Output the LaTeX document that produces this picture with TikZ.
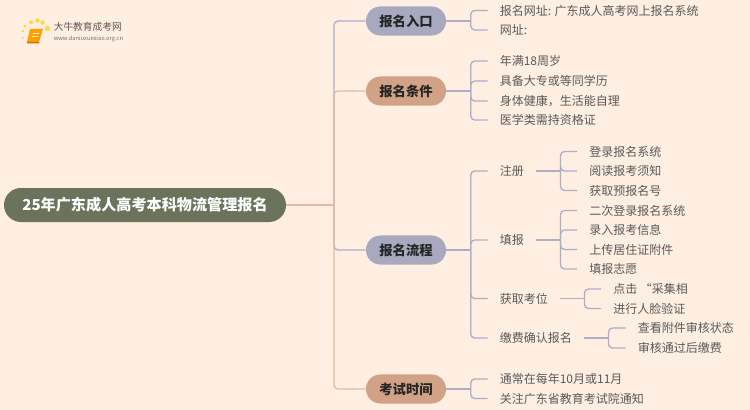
\documentclass[tikz,border=0pt]{standalone}
\usepackage{fontspec}
\setmainfont{Noto Sans CJK SC}
\usetikzlibrary{calc}
\definecolor{bgc}{HTML}{FFEEE2}
\definecolor{lav}{HTML}{A8A9BE}
\definecolor{sal}{HTML}{D2A286}
\definecolor{rootc}{HTML}{6C735C}
\definecolor{lavl}{HTML}{ADAFC8}
\definecolor{sall}{HTML}{E3BAA2}
\definecolor{txt}{HTML}{5A5A5A}
\tikzset{
  x=0.75pt,y=-0.75pt,
  rootpill/.style={rounded corners=12.7pt,fill=rootc,text=white,font=\fontsize{11.35pt}{12pt}\selectfont\bfseries,minimum width=211.5pt,minimum height=25.5pt,inner sep=0pt},
  branch/.style={rounded corners=10.8pt,text=black!85,font=\fontsize{10pt}{12pt}\selectfont\bfseries,minimum width=60pt,minimum height=21.8pt,inner sep=0pt},
  leaf/.style={anchor=west,text=txt,font=\fontsize{9pt}{11pt}\selectfont,inner xsep=9pt,inner ysep=0pt},
  conl/.style={draw=lavl,line width=1pt,rounded corners=3pt},
  cons/.style={draw=sall,line width=1pt,rounded corners=3pt},
}
\begin{document}
\begin{tikzpicture}
\fill[bgc] (0,0) rectangle (750,410);
\useasboundingbox (0,0) rectangle (750,410);

\node[rootpill] (root) at (145,205) {25年广东成人高考本科物流管理报名};
\node[branch,fill=lav] (a) at (406,21) {报名入口};
\node[branch,fill=sal] (b) at (406,91) {报名条件};
\node[branch,fill=lav] (c) at (406,250) {报名流程};
\node[branch,fill=sal] (d) at (406,389) {考试时间};

\node[leaf] (a1) at (487.5,10.5) {报名网址: 广东成人高考网上报名系统};
\node[leaf] (a2) at (487.5,30) {网址:};
\node[leaf] (b1) at (487.5,61) {年满18周岁};
\node[leaf] (b2) at (487.5,81) {具备大专或等同学历};
\node[leaf] (b3) at (487.5,101) {身体健康，生活能自理};
\node[leaf] (b4) at (487.5,120) {医学类需持资格证};
\node[leaf] (c1) at (487.5,171) {注册};
\node[leaf] (c2) at (487.5,240) {填报};
\node[leaf] (c3) at (487.5,298.5) {获取考位};
\node[leaf] (c4) at (487.5,338) {缴费确认报名};
\node[leaf] (c11) at (577,151.5) {登录报名系统};
\node[leaf] (c12) at (577,171) {阅读报考须知};
\node[leaf] (c13) at (577,190.5) {获取预报名号};
\node[leaf] (c21) at (577,210.5) {二次登录报名系统};
\node[leaf] (c22) at (577,230) {录入报考信息};
\node[leaf] (c23) at (577,249.5) {上传居住证附件};
\node[leaf] (c24) at (577,269) {填报志愿};
\node[leaf] (c31) at (601,289) {点击 “采集相};
\node[leaf] (c32) at (601,308.5) {进行人脸验证};
\node[leaf] (c41) at (625.5,328) {查看附件审核状态};
\node[leaf] (c42) at (625.5,348) {审核通过后缴费};
\node[leaf] (d1) at (487.5,379) {通常在每年10月或11月};
\node[leaf] (d2) at (487.5,398.5) {关注广东省教育考试院通知};

% main trunk
\coordinate (tr) at (334,205);
\draw[conl] (a.west) -| (tr);
\draw[conl] (c.west) -| (tr);
\draw[cons] (b.west) -| (tr);
\draw[cons] (d.west) -| (tr);
\draw[cons] (root.east) -- (tr);

% second level
\foreach \p/\kids in {a/{a1,a2},b/{b1,b2,b3,b4},c/{c1,c2,c3,c4},d/{d1,d2},c1/{c11,c12,c13},c2/{c21,c22,c23,c24},c3/{c31,c32},c4/{c41,c42}}{
  \coordinate (j) at ($(\p.east)+(24.5,0)$);
  \draw[conl] (\p.east) -- (j);
  \foreach \k in \kids { \draw[conl] (\k.west) -| (j); }
}

% logo
\foreach \px/\py/\pr in {25/26/1.6,31/22.5/2,37.5/20.5/2.2,42.5/22.5/2.2,47.5/28.5/2.6,23/31/1.3,23/38/1.2}{
  \fill[yellow!70!orange,opacity=.75] (\px,\py) circle (\pr);
}
\fill[orange!75!yellow] (30,29) -- (43,29) -- (39,42) -- (27,42) -- cycle;
\fill[orange!85!black] (27,42) -- (39,42) -- (39.5,43.5) -- (27,43.5) -- cycle;
\draw[white!85!orange,line width=.5pt] (33,33) -- (39,33) (32,36) -- (38,36);
\node[anchor=west,inner sep=0pt,text=black!65,font=\fontsize{7.3pt}{9pt}\selectfont] (lt) at (53.5,27) {大牛教育成考网};
\node[anchor=west,inner sep=0pt,text=black!55,font=\fontsize{4.3pt}{5pt}\selectfont] (lu) at (53.5,39) {www.daniuxuexiao.org.cn};
\end{tikzpicture}
\end{document}
